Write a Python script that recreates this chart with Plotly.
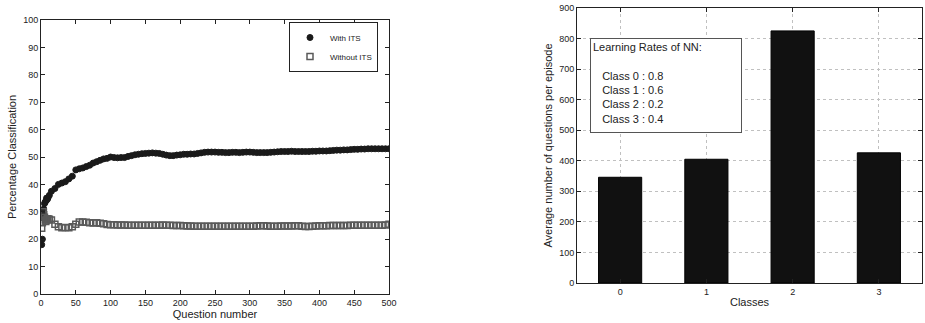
import plotly.graph_objects as go

# ---- Left chart data ----
question = [1, 2, 3, 4, 5, 6, 7, 8, 9, 10, 12, 15, 20, 25, 30, 35, 40, 45, 50, 55,
            60, 65, 70, 75, 80, 85, 90, 95, 100, 105, 110, 115, 120, 125, 130, 135, 140, 145, 150, 155,
            160, 165, 170, 175, 180, 185, 190, 195, 200, 205, 210, 215, 220, 225, 230, 235, 240, 245, 250, 255,
            260, 265, 270, 275, 280, 285, 290, 295, 300, 305, 310, 315, 320, 325, 330, 335, 340, 345, 350, 355,
            360, 365, 370, 375, 380, 385, 390, 395, 400, 405, 410, 415, 420, 425, 430, 435, 440, 445, 450, 455,
            460, 465, 470, 475, 480, 485, 490, 495, 500]
with_its = [18, 20, 29, 31, 33, 33.5, 34, 35, 34.5, 35, 36, 37.5, 38.5, 40, 40.5, 41, 42, 43, 45.3, 45.7,
            46, 46.5, 47, 47.8, 48.3, 48.8, 49.3, 49.5, 50, 49.8, 49.7, 49.8, 49.8, 50.2, 50.5, 50.8, 51, 51.2, 51.3, 51.4,
            51.5, 51.4, 51.3, 51.0, 50.7, 50.5, 50.5, 50.7, 50.8, 51, 51, 51.1, 51.1, 51.3, 51.5, 51.7, 51.8, 51.8, 51.8, 51.7,
            51.7, 51.6, 51.6, 51.7, 51.7, 51.6, 51.7, 51.8, 51.8, 51.7, 51.6, 51.6, 51.6, 51.6, 51.7, 51.8, 51.9, 52, 52, 52,
            52.1, 52, 52, 52, 52, 52, 52.1, 52.1, 52.2, 52.2, 52.2, 52.3, 52.4, 52.5, 52.5, 52.6, 52.6, 52.7, 52.8, 52.8,
            52.9, 52.9, 53, 53, 53, 53, 53, 53, 53]
without_its = [24, 26, 30, 29, 28, 27, 26.5, 27, 27.5, 27.5, 27.3, 27, 25.5, 24.5, 24.2, 24.3, 24.2, 24.5, 25.5, 26.3,
               26.3, 26.2, 26, 25.9, 26, 25.8, 25.6, 25.4, 25.3, 25.3, 25.2, 25.2, 25.2, 25.1, 25.1, 25.1, 25.1, 25.1, 25.1, 25.1,
               25.1, 25.1, 25.1, 25.2, 25.1, 25.1, 25.0, 25.0, 25.0, 24.9, 24.8, 24.8, 24.7, 24.7, 24.7, 24.7, 24.7, 24.7, 24.7, 24.7,
               24.7, 24.7, 24.7, 24.7, 24.7, 24.7, 24.7, 24.7, 24.7, 24.7, 24.8, 24.9, 24.9, 24.8, 24.7, 24.7, 24.7, 24.8, 24.8, 24.8,
               24.8, 24.9, 24.9, 24.7, 24.6, 24.6, 24.7, 24.8, 24.9, 24.9, 24.9, 25.0, 25.0, 25.0, 25.0, 25.0, 25.0, 25.1, 25.1, 25.1,
               25.1, 25.1, 25.1, 25.1, 25.1, 25.1, 25.1, 25.2, 25.5]

# ---- Right chart data ----
classes = [0, 1, 2, 3]
avg_questions = [346, 405, 825, 426]
learning_rates = ["0.8", "0.6", "0.2", "0.4"]

W, H = 925, 323
def px_x(p): return p / W
def px_y(p): return 1 - p / H

FONT = "Liberation Sans, Arial, sans-serif"
fig = go.Figure()

fig.add_trace(go.Scatter(
    x=question, y=with_its, mode="markers", name="With ITS",
    marker=dict(symbol="circle", size=6, color="#1a1a1a", line=dict(color="#1a1a1a", width=1)),
    xaxis="x", yaxis="y"))
fig.add_trace(go.Scatter(
    x=question, y=without_its, mode="markers", name="Without ITS",
    marker=dict(symbol="square-open", size=6, color="#5a5a5a", line=dict(color="#5a5a5a", width=1.5)),
    xaxis="x", yaxis="y"))

fig.add_trace(go.Bar(
    x=classes, y=avg_questions, width=0.5, showlegend=False,
    marker=dict(color="#111111", line=dict(color="#000000", width=1)),
    xaxis="x2", yaxis="y2"))

axis_common = dict(showline=True, linecolor="#222", linewidth=1, mirror="ticks",
                   ticks="inside", ticklen=4, tickcolor="#222", zeroline=False, automargin=False,
                   tickfont=dict(size=9, color="#222", family=FONT))

fig.update_layout(
    width=W, height=H, margin=dict(l=0, r=0, t=0, b=0),
    paper_bgcolor="white", plot_bgcolor="white",
    font=dict(family=FONT, color="#222"),
    xaxis=dict(domain=[px_x(41), px_x(389)], range=[0, 500], dtick=50, showgrid=False,
               title=dict(text="Question number", font=dict(size=11), standoff=0), anchor="y",
               **axis_common),
    yaxis=dict(domain=[px_y(294), px_y(20)], range=[0, 100], dtick=10, showgrid=False,
               title=dict(text="Percentage Classification", font=dict(size=11), standoff=4), anchor="x",
               **axis_common),
    xaxis2=dict(domain=[px_x(577), px_x(922)], range=[-0.5, 3.5], tickvals=classes,
                showgrid=True, gridcolor="#c0c0c0", griddash="dot", gridwidth=1,
                title=dict(text="Classes", font=dict(size=11), standoff=2), anchor="y2",
                **axis_common),
    yaxis2=dict(domain=[px_y(283), px_y(8)], range=[0, 900], dtick=100,
                showgrid=True, gridcolor="#c0c0c0", griddash="dot", gridwidth=1,
                title=dict(text="Average number of questions per episode", font=dict(size=11), standoff=4),
                anchor="x2", **axis_common),
    legend=dict(x=px_x(289), y=px_y(22), xanchor="left", yanchor="top",
                bordercolor="#222", borderwidth=1, bgcolor="white",
                font=dict(size=8, family=FONT), tracegroupgap=0, itemwidth=30,
                entrywidth=0),
    bargap=0.5,
)

box_text = "Learning Rates of NN:<br> <br>" + "<br>".join(
    "&nbsp;&nbsp;&nbsp;Class %d : %s" % (c, r) for c, r in zip(classes, learning_rates))
fig.add_annotation(
    xref="paper", yref="paper", x=px_x(590), y=px_y(38), xanchor="left", yanchor="top",
    text=box_text, showarrow=False, align="left", valign="top",
    width=146, height=89, bordercolor="#555", borderwidth=1, borderpad=2, bgcolor="white",
    font=dict(size=11, family=FONT, color="#222"))

fig.write_html("out.html", config={"displayModeBar": False},
               post_script="document.body.style.margin='0';")
